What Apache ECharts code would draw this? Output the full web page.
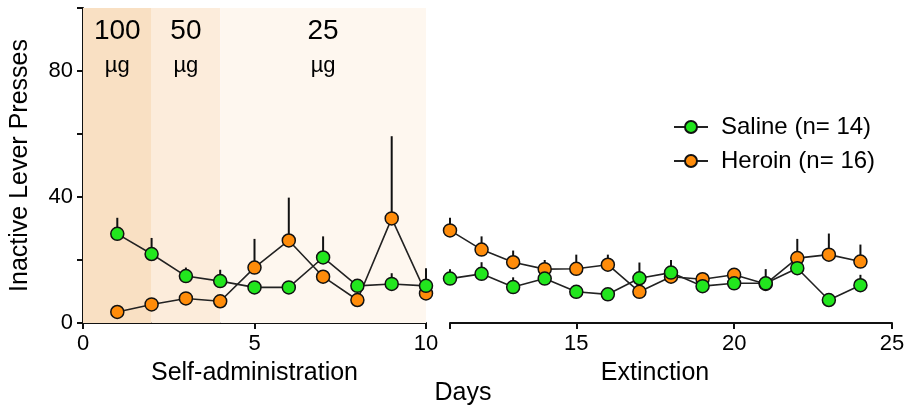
<!DOCTYPE html>
<html>
<head>
<meta charset="utf-8">
<script src="https://cdn.jsdelivr.net/npm/echarts@6/dist/echarts.min.js"></script>
<style>
  html, body { margin: 0; padding: 0; background: #fff; }
  #chart { width: 909px; height: 408px; }
</style>
</head>
<body>
<div id="chart"></div>
<script>
// days of the experiment (1-10 self-administration, 11-24 extinction)
const days = [1, 2, 3, 4, 5, 6, 7, 8, 9, 10, 11, 12, 13, 14, 15, 16, 17, 18, 19, 20, 21, 22, 23, 24];
const salineMean = [28.3, 21.9, 14.9, 13.3, 11.3, 11.3, 20.8, 11.8, 12.4, 11.8,
  14.1, 15.6, 11.4, 14.1, 9.9, 9.1, 14.2, 16.0, 11.7, 12.6, 12.6, 17.4, 7.3, 12.0];
const salineSem = [5.1, 5.1, 2.7, 3.6, 1.5, 1.5, 6.7, 1.5, 3.4, 5.6,
  3.0, 3.7, 3.1, 1.5, 1.5, 1.5, 5.0, 4.0, 1.5, 1.5, 4.5, 1.5, 1.5, 3.3];
const heroinMean = [3.5, 5.9, 7.8, 6.9, 17.6, 26.2, 14.7, 7.3, 33.2, 9.4,
  29.4, 23.3, 19.3, 17.1, 17.2, 18.5, 9.9, 14.7, 13.9, 15.3, 12.4, 20.6, 21.7, 19.5];
const heroinSem = [1.5, 1.5, 1.5, 1.5, 9.1, 13.6, 1.5, 1.5, 26.1, 1.5,
  4.0, 4.2, 3.7, 2.9, 4.5, 3.2, 1.5, 1.5, 1.7, 1.5, 1.5, 6.1, 6.7, 5.4];

// dose phases during self-administration
const doseRanges = [[0, 2], [2, 4], [4, 10]];
const doseLabels = ['100', '50', '25'];
const doseColors = ['#f9e0c3', '#fcecdb', '#fef7ef'];

const yTicks = [0, 40, 80];
const salineName = 'Saline (n= 14)';
const heroinName = 'Heroin (n= 16)';

const ink = '#111';
const font = '"Liberation Sans", Arial, sans-serif';

function pick(arr, grid) {
  const out = [];
  days.forEach((d, i) => {
    if ((grid === 0 && d <= 10) || (grid === 1 && d > 10)) out.push([d, arr[i]]);
  });
  return out;
}

function errSeries(mean, sem, grid) {
  const data = [];
  days.forEach((d, i) => {
    if ((grid === 0 && d <= 10) || (grid === 1 && d > 10)) data.push([d, mean[i], mean[i] + sem[i]]);
  });
  return {
    type: 'custom',
    xAxisIndex: grid,
    yAxisIndex: grid,
    silent: true,
    z: 2,
    data: data,
    encode: { x: 0, y: [1, 2] },
    renderItem(params, api) {
      const lo = api.coord([api.value(0), api.value(1)]);
      const hi = api.coord([api.value(0), api.value(2)]);
      return {
        type: 'line',
        shape: { x1: lo[0], y1: lo[1], x2: hi[0], y2: hi[1] },
        style: { stroke: ink, lineWidth: 2 }
      };
    }
  };
}

function lineSeries(name, mean, color, grid) {
  return {
    name: name,
    type: 'line',
    xAxisIndex: grid,
    yAxisIndex: grid,
    z: 3,
    data: pick(mean, grid),
    symbol: 'circle',
    symbolSize: 13,
    itemStyle: { color: color, borderColor: ink, borderWidth: 1.5 },
    lineStyle: { color: '#222', width: 1.6 },
    emphasis: { disabled: true }
  };
}

const chart = echarts.init(document.getElementById('chart'));

const axisCommon = {
  axisLine: { lineStyle: { color: ink, width: 2 } },
  axisTick: { length: 6, lineStyle: { color: ink, width: 2 } },
  axisLabel: { color: '#000', fontSize: 22, fontFamily: font, margin: 10 },
  splitLine: { show: false },
  nameTextStyle: { color: '#000', fontSize: 25, fontFamily: font }
};

const option = {
  animation: false,
  backgroundColor: '#fff',
  grid: [
    { left: 83, right: 483, top: 8, bottom: 85 },
    { left: 450, right: 17, top: 8, bottom: 85 }
  ],
  xAxis: [
    Object.assign({}, axisCommon, {
      type: 'value', gridIndex: 0, min: 0, max: 10, interval: 5,
      name: 'Self-administration', nameLocation: 'middle', nameGap: 38
    }),
    Object.assign({}, axisCommon, {
      type: 'value', gridIndex: 1, min: 11, max: 25,
      axisTick: { length: 6, lineStyle: { color: ink, width: 2 }, customValues: [11, 15, 20, 25] },
      axisLabel: { color: '#000', fontSize: 22, fontFamily: font, margin: 10, customValues: [15, 20, 25] },
      name: 'Extinction', nameLocation: 'middle', nameGap: 38,
      nameTextStyle: { color: '#000', fontSize: 25, fontFamily: font, padding: [0, 32, 0, 0] }
    })
  ],
  yAxis: [
    Object.assign({}, axisCommon, {
      type: 'value', gridIndex: 0, min: 0, max: 100, interval: 20,
      axisLabel: { color: '#000', fontSize: 22, fontFamily: font, margin: 10, customValues: yTicks },
      name: 'Inactive Lever Presses', nameLocation: 'middle', nameGap: 50
    }),
    { type: 'value', gridIndex: 1, min: 0, max: 100, show: false }
  ],
  legend: {
    data: [salineName, heroinName],
    orient: 'vertical',
    left: 668,
    top: 110,
    itemWidth: 34,
    itemHeight: 15,
    itemGap: 10,
    textStyle: { color: '#000', fontSize: 24, fontFamily: font, padding: [0, 0, 0, 8] },
    selectedMode: false
  },
  graphic: [{
    type: 'text',
    x: 463, y: 393,
    style: { text: 'Days', fontSize: 25, fontFamily: font, fill: '#000', align: 'center', verticalAlign: 'middle' }
  }],
  series: [
    {
      name: 'dose',
      type: 'line',
      xAxisIndex: 0,
      yAxisIndex: 0,
      z: 0,
      data: [],
      markArea: {
        silent: true,
        data: doseRanges.map((r, i) => [
          {
            xAxis: r[0],
            itemStyle: { color: doseColors[i] },
            label: {
              show: true,
              position: 'insideTop',
              distance: 5,
              formatter: '{a|' + doseLabels[i] + '}\n{b|µg}',
              rich: {
                a: { fontSize: 28, lineHeight: 36, color: '#000', fontFamily: font, align: 'center' },
                b: { fontSize: 22, lineHeight: 34, color: '#000', fontFamily: font, align: 'center' }
              }
            }
          },
          { xAxis: r[1] }
        ])
      }
    },
    errSeries(heroinMean, heroinSem, 0),
    errSeries(heroinMean, heroinSem, 1),
    errSeries(salineMean, salineSem, 0),
    errSeries(salineMean, salineSem, 1),
    lineSeries(heroinName, heroinMean, '#ff8c0a', 0),
    lineSeries(heroinName, heroinMean, '#ff8c0a', 1),
    lineSeries(salineName, salineMean, '#22e61e', 0),
    lineSeries(salineName, salineMean, '#22e61e', 1)
  ]
};

chart.setOption(option);
</script>
</body>
</html>
